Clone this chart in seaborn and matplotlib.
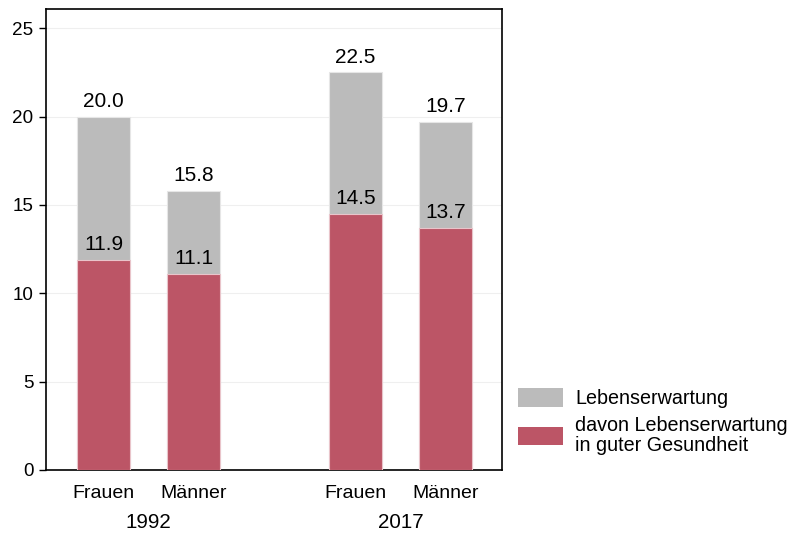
import matplotlib
matplotlib.use("Agg")
import matplotlib.pyplot as plt
import matplotlib.transforms as mtransforms
from matplotlib.patches import Patch
import seaborn as sns
import pandas as pd

# Data
groups = ["Frauen", "Männer", "Frauen", "Männer"]
years = ["1992", "2017"]
year_centers = [0.5, 3.3]
lebenserwartung = [20.0, 15.8, 22.5, 19.7]
gesund = [11.9, 11.1, 14.5, 13.7]
positions = [0.0, 1.0, 2.8, 3.8]

grey = "#BBBBBB"
red = "#BC5566"

sns.set_theme(style="white", rc={"text.color": "black", "xtick.color": "black",
                                 "ytick.color": "black", "axes.labelcolor": "black"})
plt.rcParams["font.family"] = ["Liberation Sans", "DejaVu Sans"]

df = pd.DataFrame({"pos": positions, "total": lebenserwartung, "healthy": gesund})

fig = plt.figure(figsize=(7.87, 5.34), dpi=100)
ax = fig.add_axes([45.5 / 787, 64 / 534, 456.8 / 787, 460.8 / 534])

sns.barplot(data=df, x="pos", y="total", native_scale=True, width=0.595,
            color=grey, saturation=1, edgecolor="#E6E6E6", linewidth=0.8, ax=ax, zorder=2)
sns.barplot(data=df, x="pos", y="healthy", native_scale=True, width=0.595,
            color=red, saturation=1, edgecolor="#E9C4CA", linewidth=0.8, ax=ax, zorder=3)

for x, t, h in zip(positions, lebenserwartung, gesund):
    ax.annotate(f"{t:.1f}", (x, t), xytext=(0, 4), textcoords="offset points",
                ha="center", va="bottom", fontsize=15, color="black", zorder=5)
    ax.annotate(f"{h:.1f}", (x, h), xytext=(0, 4), textcoords="offset points",
                ha="center", va="bottom", fontsize=15, color="black", zorder=5)

ax.set_xlim(-0.644, 4.431)
ax.set_ylim(0, 26.08)
ax.set_yticks([0, 5, 10, 15, 20, 25])
ax.set_xticks(positions)
ax.set_xticklabels(groups)
ax.set_xlabel("")
ax.set_ylabel("")
ax.tick_params(axis="y", which="both", left=True, length=5.3, width=1, color="black",
               labelsize=13.6, pad=3.5)
ax.tick_params(axis="x", bottom=False, labelsize=14, pad=5)
ax.yaxis.grid(True, color="#EFEFEF", linewidth=0.8)
ax.set_axisbelow(True)
for s in ax.spines.values():
    s.set_visible(True)
    s.set_color("black")
    s.set_linewidth(1.2)

trans = mtransforms.blended_transform_factory(ax.transData, ax.transAxes)
for label, xc in zip(years, year_centers):
    ax.text(xc, -0.126, label, transform=trans, ha="center", va="baseline", fontsize=14.8)

handles = [Patch(facecolor=grey, edgecolor="none", label="Lebenserwartung"),
           Patch(facecolor=red, edgecolor="none",
                 label="davon Lebenserwartung\nin guter Gesundheit")]
leg = fig.legend(handles=handles, loc="upper left", bbox_to_anchor=(516 / 787, 1 - 386.5 / 534),
                 frameon=False, fontsize=14.2, handlelength=2.3, handleheight=1.05,
                 handletextpad=0.6, labelspacing=0.37, borderaxespad=0, borderpad=0.1)
for t in leg.get_texts():
    t.set_linespacing(1.09)

fig.savefig("out.png", dpi=100)
